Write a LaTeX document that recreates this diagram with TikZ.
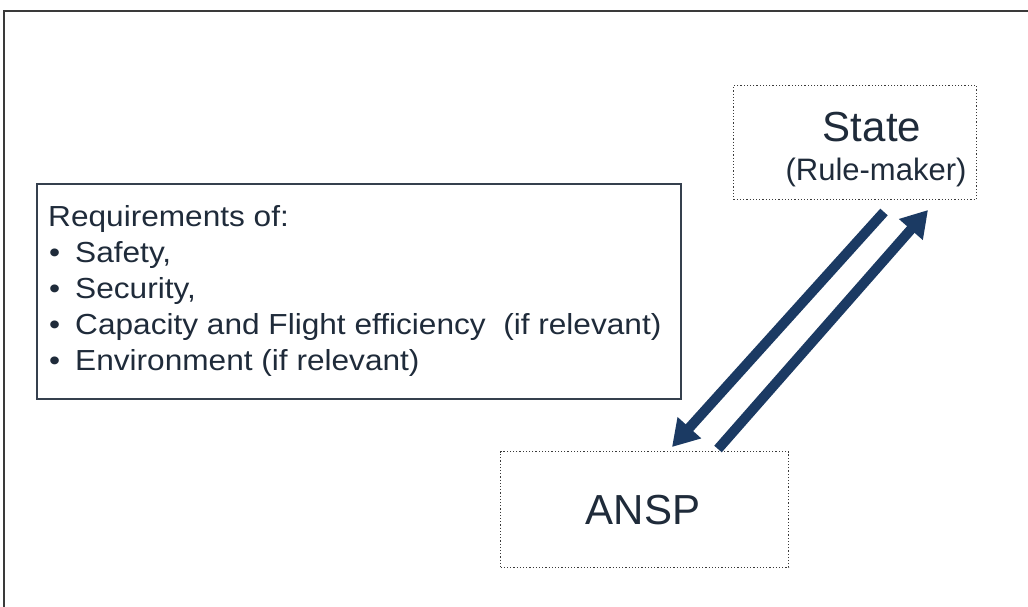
\documentclass[tikz,border=0pt]{standalone}
\usepackage{fontspec}
\setmainfont{Liberation Sans}
\usetikzlibrary{arrows.meta}
\definecolor{navy}{HTML}{1B3A63}
\definecolor{ink}{HTML}{1F2B3A}
\definecolor{frame}{HTML}{3A3A3A}
\tikzset{
  dotbox/.style={draw=frame, dotted, line width=1.2pt, inner sep=0pt},
  reqbox/.style={draw=ink!90, line width=1.6pt, inner sep=0pt},
  flow/.style={draw=navy, line width=10pt, -{Triangle[length=26pt,width=30pt]}},
  label/.style={text=ink, inner sep=0pt},
  listline/.style={label, anchor=base west, xscale=1.09, transform shape,
                   font=\fontsize{29}{29}\selectfont},
}
\begin{document}
\begin{tikzpicture}[x=1pt,y=-1pt]
\useasboundingbox (0,0) rectangle (1028,607);
\fill[white] (0,0) rectangle (1028,607);
% outer frame (top and left edges only)
\draw[frame, line width=2pt] (1028,11) -- (4,11) -- (4,607);

% requirement list
\node[reqbox, minimum width=644pt, minimum height=215pt, anchor=north west] (req) at (36,183) {};
\node[listline] (head) at (48,226) {Requirements of:};
\foreach \name/\txt [count=\i] in {safety/{Safety,}, security/{Security,},
    capacity/{Capacity and Flight efficiency\ \ (if relevant)},
    environment/{Environment (if relevant)}} {
  \node[listline] (b-\name) at (49,226+36.2*\i) {\textbullet};
  \node[listline] (\name) at (75,226+36.2*\i) {\txt};
}

% actors
\node[dotbox, minimum width=243pt, minimum height=114pt, anchor=north west] (state) at (733,85) {};
\node[label, font=\fontsize{42}{42}\selectfont] (statename) at (872,127) {State};
\node[label, font=\fontsize{31}{31}\selectfont] (staterole) at (876,172) {(Rule-maker)};

\node[dotbox, minimum width=288pt, minimum height=116pt, anchor=north west] (ansp) at (500,451) {};
\node[label, font=\fontsize{42}{42}\selectfont] (anspname) at (643,510) {ANSP};

% two-way exchange between the actors
\coordinate (down0) at (884,212);
\coordinate (down1) at (672,447);
\coordinate (up0) at (718,449);
\coordinate (up1) at (928,210);
\draw[flow] (down0) -- (down1);
\draw[flow] (up0) -- (up1);
\end{tikzpicture}
\end{document}
